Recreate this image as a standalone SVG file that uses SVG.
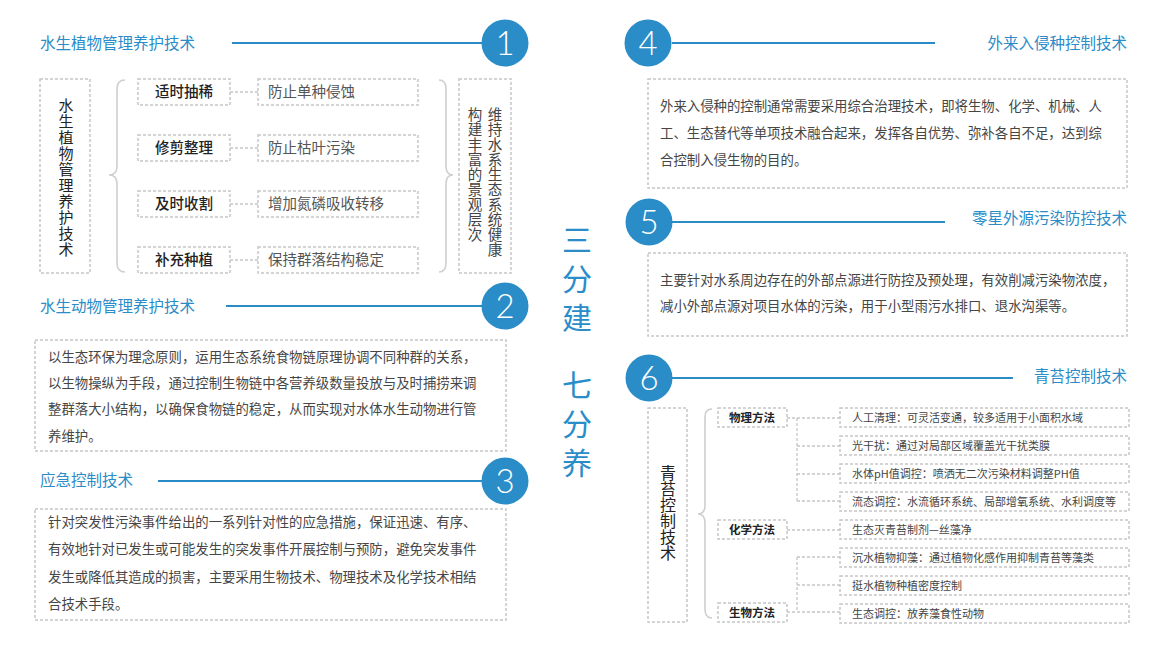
<svg xmlns="http://www.w3.org/2000/svg" width="1171" height="651" viewBox="0 0 1171 651">
<style>
text{font-family:"Noto Sans CJK SC","Noto Sans",sans-serif;}
.box{fill:none;stroke:#c6c6c6;stroke-width:1.5;stroke-dasharray:3 2;}
.dash{fill:none;stroke:#c6c6c6;stroke-width:1.3;stroke-dasharray:3 2;}
.brace{fill:none;stroke:#cfcfcf;stroke-width:1.6;}
.hl{stroke:#2a8cc6;stroke-width:2.2;}
.circ{fill:#2a8dc7;}
.num{font-family:Lato,"Open Sans",sans-serif;font-weight:300;font-size:33px;fill:#fff;text-anchor:middle;}
.title{font-size:15.5px;fill:#2a8cc8;}
.para{font-size:13.4px;fill:#464646;}
.item{font-size:14.5px;fill:#222;font-weight:500;text-anchor:middle;}
.res{font-size:14.5px;fill:#555;}
.vert{writing-mode:vertical-rl;text-orientation:upright;}
.vt{font-size:15px;fill:#222;letter-spacing:1px;}
.vr{font-size:14.5px;fill:#444;letter-spacing:0.5px;}
.big{font-size:30px;fill:#2a8cc8;letter-spacing:9px;}
.meth{font-size:11.5px;fill:#222;font-weight:700;text-anchor:middle;}
.sm{font-size:11px;fill:#444;}
</style>

<g id="connectors">
  <line class="hl" x1="232" y1="43" x2="482" y2="43"/>
  <line class="hl" x1="226" y1="306" x2="482" y2="306"/>
  <line class="hl" x1="158" y1="481" x2="482" y2="481"/>
  <line class="hl" x1="672" y1="43" x2="935" y2="43"/>
  <line class="hl" x1="672" y1="222" x2="945" y2="222"/>
  <line class="hl" x1="672" y1="378" x2="1013" y2="378"/>
  <path class="dash" d="M230 92H258M230 148H258M230 204H258M230 260H258"/>
  <path class="dash" d="M787 418H840M797 418V501M797 446H840M797 474H840M797 501H840"/>
  <path class="dash" d="M787 530H840"/>
  <path class="dash" d="M787 612H797M797 557V612M797 557H840M797 585H840M797 612H840"/>
  <path class="brace" d="M125 80Q117 80 117 89V166Q117 175 109 175Q117 175 117 184V263Q117 272 125 272"/>
  <path class="brace" d="M439 80Q446 80 446 89V166Q446 175 453 175Q446 175 446 184V263Q446 272 439 272"/>
  <path class="brace" d="M712 409Q705 409 705 417V505Q705 514 698 514Q705 514 705 523V609Q705 618 712 618"/>
</g>

<g id="center-title">
  <text class="vert big" x="577" y="225">三分建</text>
  <text class="vert big" x="577" y="370">七分养</text>
</g>

<g id="section1">
  <text class="title" x="40" y="49">水生植物管理养护技术</text>
  <circle class="circ" cx="505" cy="43" r="23.5"/>
  <text class="num" x="505" y="55">1</text>
</g>
<g id="node-plant-root">
  <rect class="box" x="40" y="79" width="50" height="194"/>
  <text class="vert vt" x="66" y="98">水生植物管理养护技术</text>
</g>
<g id="node-item1"><rect class="box" x="138" y="79" width="92" height="26"/><text class="item" x="184" y="97">适时抽稀</text></g>
<g id="node-item2"><rect class="box" x="138" y="135" width="92" height="26"/><text class="item" x="184" y="153">修剪整理</text></g>
<g id="node-item3"><rect class="box" x="138" y="191" width="92" height="26"/><text class="item" x="184" y="209">及时收割</text></g>
<g id="node-item4"><rect class="box" x="138" y="247" width="92" height="26"/><text class="item" x="184" y="265">补充种植</text></g>
<g id="node-res1"><rect class="box" x="258" y="79" width="160" height="26"/><text class="res" x="268" y="97">防止单种侵蚀</text></g>
<g id="node-res2"><rect class="box" x="258" y="135" width="160" height="26"/><text class="res" x="268" y="153">防止枯叶污染</text></g>
<g id="node-res3"><rect class="box" x="258" y="191" width="160" height="26"/><text class="res" x="268" y="209">增加氮磷吸收转移</text></g>
<g id="node-res4"><rect class="box" x="258" y="247" width="160" height="26"/><text class="res" x="268" y="265">保持群落结构稳定</text></g>
<g id="node-plant-goal">
  <rect class="box" x="459" y="79" width="52" height="194"/>
  <text class="vert vr" x="495" y="107">维持水系生态系统健康</text>
  <text class="vert vr" x="475" y="107">构建丰富的景观层次</text>
</g>

<g id="section2">
  <text class="title" x="40" y="312">水生动物管理养护技术</text>
  <circle class="circ" cx="505" cy="306" r="23.5"/>
  <text class="num" x="505" y="318">2</text>
  <rect class="box" x="35" y="340" width="471" height="111"/>
  <text class="para"><tspan x="48" y="362">以生态环保为理念原则，运用生态系统食物链原理协调不同种群的关系，</tspan><tspan x="48" y="388">以生物操纵为手段，通过控制生物链中各营养级数量投放与及时捕捞来调</tspan><tspan x="48" y="414">整群落大小结构，以确保食物链的稳定，从而实现对水体水生动物进行管</tspan><tspan x="48" y="441">养维护。</tspan></text>
</g>

<g id="section3">
  <text class="title" x="40" y="486">应急控制技术</text>
  <circle class="circ" cx="505" cy="481" r="23.5"/>
  <text class="num" x="505" y="493">3</text>
  <rect class="box" x="35" y="509" width="471" height="111"/>
  <text class="para"><tspan x="48" y="527">针对突发性污染事件给出的一系列针对性的应急措施，保证迅速、有序、</tspan><tspan x="48" y="554">有效地针对已发生或可能发生的突发事件开展控制与预防，避免突发事件</tspan><tspan x="48" y="582">发生或降低其造成的损害，主要采用生物技术、物理技术及化学技术相结</tspan><tspan x="48" y="609">合技术手段。</tspan></text>
</g>

<g id="section4">
  <circle class="circ" cx="648" cy="43" r="23.5"/>
  <text class="num" x="648" y="55">4</text>
  <text class="title" x="1127" y="49" text-anchor="end">外来入侵种控制技术</text>
  <rect class="box" x="648" y="79" width="479" height="109"/>
  <text class="para"><tspan x="660" y="111">外来入侵种的控制通常需要采用综合治理技术，即将生物、化学、机械、人</tspan><tspan x="660" y="138">工、生态替代等单项技术融合起来，发挥各自优势、弥补各自不足，达到综</tspan><tspan x="660" y="165">合控制入侵生物的目的。</tspan></text>
</g>

<g id="section5">
  <circle class="circ" cx="649" cy="222" r="23.5"/>
  <text class="num" x="649" y="234">5</text>
  <text class="title" x="1127" y="224" text-anchor="end">零星外源污染防控技术</text>
  <rect class="box" x="648" y="253" width="479" height="83"/>
  <text class="para"><tspan x="660" y="285">主要针对水系周边存在的外部点源进行防控及预处理，有效削减污染物浓度，</tspan><tspan x="660" y="311">减小外部点源对项目水体的污染，用于小型雨污水排口、退水沟渠等。</tspan></text>
</g>

<g id="section6">
  <circle class="circ" cx="649" cy="378" r="23.5"/>
  <text class="num" x="649" y="390">6</text>
  <text class="title" x="1127" y="382" text-anchor="end">青苔控制技术</text>
</g>
<g id="node-algae-root">
  <rect class="box" x="648" y="408" width="39" height="214"/>
  <text class="vert vt" style="font-size:16px;letter-spacing:0" x="668" y="465">青苔控制技术</text>
</g>
<g id="node-phys"><rect class="box" x="718" y="408" width="69" height="19"/><text class="meth" x="752" y="422">物理方法</text></g>
<g id="node-chem"><rect class="box" x="718" y="520" width="69" height="19"/><text class="meth" x="752" y="534">化学方法</text></g>
<g id="node-bio"><rect class="box" x="718" y="603" width="69" height="19"/><text class="meth" x="752" y="617">生物方法</text></g>
<g id="node-m1"><rect class="box" x="840" y="408" width="289" height="19"/><text class="sm" x="852" y="421.5">人工清理：可灵活变通，较多适用于小面积水域</text></g>
<g id="node-m2"><rect class="box" x="840" y="436" width="289" height="19"/><text class="sm" x="852" y="449.5">光干扰：通过对局部区域覆盖光干扰类膜</text></g>
<g id="node-m3"><rect class="box" x="840" y="464" width="289" height="19"/><text class="sm" x="852" y="477.5">水体pH值调控：喷洒无二次污染材料调整PH值</text></g>
<g id="node-m4"><rect class="box" x="840" y="492" width="289" height="19"/><text class="sm" x="852" y="505.5">流态调控：水流循环系统、局部增氧系统、水利调度等</text></g>
<g id="node-m5"><rect class="box" x="840" y="520" width="289" height="19"/><text class="sm" x="852" y="533.5">生态灭青苔制剂—丝藻净</text></g>
<g id="node-m6"><rect class="box" x="840" y="548" width="289" height="19"/><text class="sm" x="852" y="561.5">沉水植物抑藻：通过植物化感作用抑制青苔等藻类</text></g>
<g id="node-m7"><rect class="box" x="840" y="576" width="289" height="19"/><text class="sm" x="852" y="589.5">挺水植物种植密度控制</text></g>
<g id="node-m8"><rect class="box" x="840" y="604" width="289" height="19"/><text class="sm" x="852" y="617.5">生态调控：放养藻食性动物</text></g>
</svg>
